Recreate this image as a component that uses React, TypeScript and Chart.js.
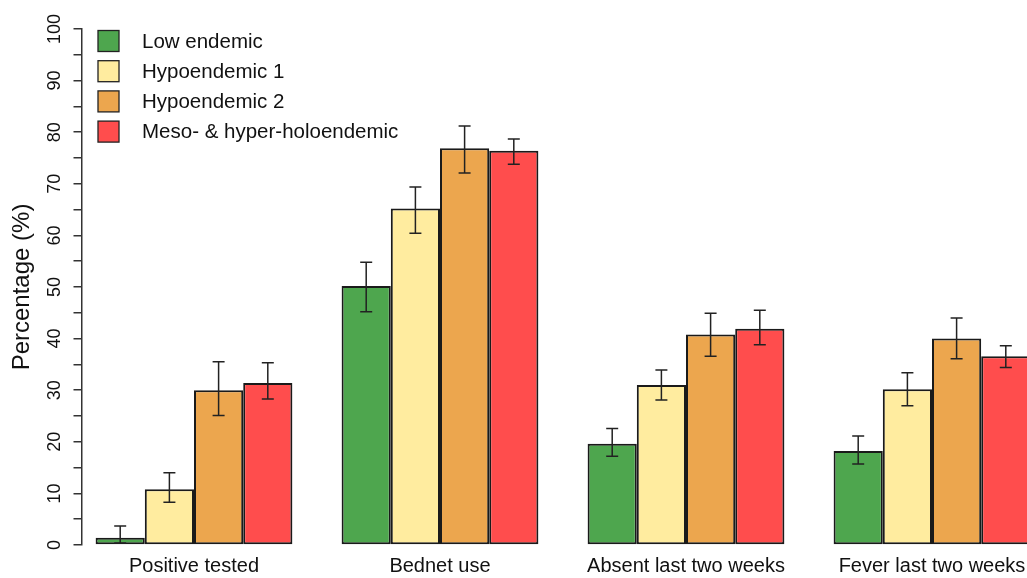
import React, { useEffect, useRef } from "react";
import { Chart, registerables } from "chart.js";

Chart.register(...registerables);

const categories = ["Positive tested", "Bednet use", "Absent last two weeks", "Fever last two weeks"];
const seriesNames = ["Low endemic", "Hypoendemic 1", "Hypoendemic 2", "Meso- & hyper-holoendemic"];
const seriesColors = ["#4ea64e", "#ffec9f", "#eca64e", "#ff4d4d"];

const lowEndemic = [1.4, 50.2, 19.6, 18.2];
const hypoendemic1 = [10.8, 65.2, 31.0, 30.2];
const hypoendemic2 = [30.0, 76.9, 40.8, 40.0];
const mesoHyper = [31.4, 76.4, 41.9, 36.6];

const lowEndemicLower = [0.4, 45.2, 17.2, 15.7];
const lowEndemicUpper = [3.7, 54.8, 22.6, 21.1];
const hypoendemic1Lower = [8.3, 60.4, 28.1, 27.0];
const hypoendemic1Upper = [14.0, 69.4, 33.9, 33.4];
const hypoendemic2Lower = [25.1, 72.1, 36.6, 36.1];
const hypoendemic2Upper = [35.5, 81.2, 44.9, 44.0];
const mesoHyperLower = [28.3, 73.8, 38.8, 34.4];
const mesoHyperUpper = [35.3, 78.7, 45.5, 38.6];

const yTickValues = [0, 10, 20, 30, 40, 50, 60, 70, 80, 90, 100];

const seriesValues = [lowEndemic, hypoendemic1, hypoendemic2, mesoHyper];
const seriesLower = [lowEndemicLower, hypoendemic1Lower, hypoendemic2Lower, mesoHyperLower];
const seriesUpper = [lowEndemicUpper, hypoendemic1Upper, hypoendemic2Upper, mesoHyperUpper];

const FONT = "'Liberation Sans', Arial, Helvetica, sans-serif";

const errorBarPlugin = {
  id: "errorBars",
  afterDatasetsDraw(chart: any) {
    const ctx = chart.ctx;
    const yScale = chart.scales.y;
    ctx.save();
    ctx.strokeStyle = "#222";
    ctx.lineWidth = 1.5;
    chart.data.datasets.forEach((_ds: any, di: number) => {
      const meta = chart.getDatasetMeta(di);
      meta.data.forEach((bar: any, i: number) => {
        const x = bar.x;
        const yl = yScale.getPixelForValue(seriesLower[di][i]);
        const yh = yScale.getPixelForValue(seriesUpper[di][i]);
        const cap = 6;
        ctx.beginPath();
        ctx.moveTo(x, yl);
        ctx.lineTo(x, yh);
        ctx.moveTo(x - cap, yl);
        ctx.lineTo(x + cap, yl);
        ctx.moveTo(x - cap, yh);
        ctx.lineTo(x + cap, yh);
        ctx.stroke();
      });
    });
    ctx.restore();
  },
};

const legendPlugin = {
  id: "insideLegend",
  afterDraw(chart: any) {
    const ctx = chart.ctx;
    const area = chart.chartArea;
    const boxX = area.left + 16;
    const firstRow = area.top + 12;
    const rowGap = 30.2;
    const box = 21;
    ctx.save();
    ctx.font = `20.5px ${FONT}`;
    ctx.textBaseline = "middle";
    ctx.textAlign = "left";
    chart.data.datasets.forEach((ds: any, i: number) => {
      const cy = firstRow + i * rowGap;
      ctx.fillStyle = ds.backgroundColor;
      ctx.fillRect(boxX, cy - box / 2, box, box);
      ctx.strokeStyle = "#222";
      ctx.lineWidth = 1.3;
      ctx.strokeRect(boxX, cy - box / 2, box, box);
      ctx.fillStyle = "#111";
      ctx.fillText(ds.label, boxX + 44, cy + 1);
    });
    ctx.restore();
  },
};

export default function App() {
  const canvasRef = useRef<HTMLCanvasElement | null>(null);

  useEffect(() => {
    if (!canvasRef.current) return;
    const groupCenterPx = 194;
    const groupPeriodPx = 246;
    const leftPx = 82;
    const canvasW = 1150;
    const xMin = -(groupCenterPx - leftPx) / groupPeriodPx;
    const xMax = xMin + (canvasW - leftPx) / groupPeriodPx;

    const chart = new Chart(canvasRef.current, {
      type: "bar",
      data: {
        datasets: seriesNames.map((name, si) => ({
          label: name,
          data: seriesValues[si].map((v, ci) => ({ x: ci, y: v })),
          backgroundColor: seriesColors[si],
          borderColor: "#1a1a1a",
          borderWidth: 2,
          borderSkipped: false,
          categoryPercentage: 0.8,
          barPercentage: 1.0,
        })),
      },
      options: {
        animation: false,
        responsive: false,
        devicePixelRatio: 1,
        layout: { padding: { top: 29, left: 0, right: 0, bottom: 0 } },
        plugins: {
          legend: { display: false },
          tooltip: { enabled: false },
        },
        scales: {
          x: {
            type: "linear",
            min: xMin,
            max: xMax,
            offset: false,
            bounds: "data",
            grid: { display: false, drawTicks: false, offset: false },
            border: { display: false },
            afterBuildTicks: (scale: any) => {
              scale.ticks = categories.map((_c, i) => ({ value: i }));
            },
            afterFit: (scale: any) => {
              scale.height = 33;
            },
            ticks: {
              autoSkip: false,
              maxRotation: 0,
              minRotation: 0,
              padding: 9,
              color: "#111",
              font: { family: FONT, size: 20 },
              callback: (value: any) => categories[Math.round(Number(value))] ?? "",
            },
          },
          y: {
            type: "linear",
            min: 0,
            max: 100,
            afterFit: (scale: any) => {
              scale.width = leftPx;
            },
            ticks: {
              stepSize: 5,
              autoSkip: false,
              minRotation: 90,
              maxRotation: 90,
              crossAlign: "center",
              padding: 3,
              color: "#111",
              font: { family: FONT, size: 18 },
              callback: (value: any) => (yTickValues.includes(Number(value)) ? String(value) : ""),
            },
            grid: {
              display: true,
              drawOnChartArea: false,
              drawTicks: true,
              tickLength: 8.5,
              color: "#333",
              lineWidth: 1.5,
            },
            border: { display: true, color: "#333", width: 1.5 },
            title: {
              display: true,
              text: "Percentage (%)",
              color: "#111",
              font: { family: FONT, size: 24 },
              padding: { top: 7.6, bottom: 0 },
            },
          },
        },
      },
      plugins: [errorBarPlugin, legendPlugin],
    } as any);

    return () => {
      chart.destroy();
    };
  }, []);

  return (
    <div
      style={{
        position: "fixed",
        left: 0,
        top: 0,
        width: 1027,
        height: 578,
        overflow: "hidden",
        background: "#fff",
      }}
    >
      <canvas ref={canvasRef} width={1150} height={578} style={{ width: 1150, height: 578, display: "block" }} />
    </div>
  );
}
